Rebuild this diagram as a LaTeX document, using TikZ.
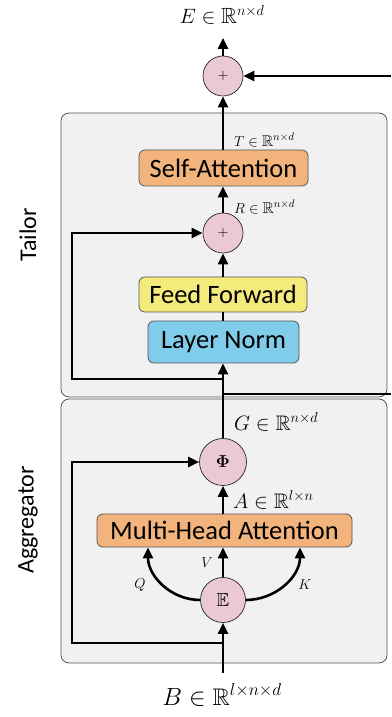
\documentclass[tikz,border=0pt]{standalone}
\usepackage{amsmath,amssymb}
\usepackage{fontspec}
\newfontfamily\labelfont{Carlito}
\usetikzlibrary{arrows.meta,positioning}
\definecolor{panel}{HTML}{F1F1F1}
\definecolor{edge}{HTML}{555555}
\definecolor{attn}{HTML}{F2B47C}
\definecolor{ffn}{HTML}{F3EB7C}
\definecolor{norm}{HTML}{7FCDEA}
\definecolor{opfill}{HTML}{EAC8D5}

\begin{document}
\begin{tikzpicture}[x=1pt,y=1pt,
    block/.style={draw=edge, rounded corners=8pt, fill=panel, line width=0.8pt},
    box/.style={draw=edge, rounded corners=6pt, line width=0.8pt, inner sep=0pt, font=\labelfont\fontsize{26.5}{28}\selectfont},
    op/.style={draw=black!85, circle, fill=opfill, line width=0.7pt, inner sep=0pt},
    side/.style={rotate=90, font=\labelfont\fontsize{24}{26}\selectfont},
    dim/.style={anchor=west, inner sep=0pt},
    arr/.style={-{Triangle[length=11pt,width=10pt]}, line width=2.6pt},
    wire/.style={line width=2.6pt}]
    \useasboundingbox (0,0) rectangle (391,717);
    % the two stages
    \node[block, minimum width=326pt, minimum height=284pt] (tailor) at (224,462) {};
    \node[block, minimum width=326pt, minimum height=264pt] (agg) at (224,186) {};
    \node[side] (tailorlbl) at (28,482) {Tailor};
    \node[side] (agglbl) at (28,197) {Aggregator};
    % aggregator
    \node[op, minimum size=45pt, font=\fontsize{19}{20}\selectfont] (emb) at (223,117) {$\mathbb{E}$};
    \node[box, fill=attn, minimum width=255pt, minimum height=33pt] (mha) at (224.5,186.5) {Multi-Head Attention};
    \node[op, minimum size=47pt, font=\fontsize{18}{20}\selectfont] (phi) at (223,255) {$\boldsymbol{\Phi}$};
    % tailor
    \node[box, fill=norm, minimum width=151pt, minimum height=42pt] (ln) at (223.5,375) {Layer Norm};
    \node[box, fill=ffn, minimum width=168pt, minimum height=35pt] (ff) at (223,422.5) {Feed Forward};
    \node[op, minimum size=40pt, font=\fontsize{14}{15}\selectfont] (add1) at (223,484) {$+$};
    \node[box, fill=attn, minimum width=169pt, minimum height=36pt] (sa) at (223.5,549) {Self-Attention};
    \node[op, minimum size=40pt, font=\fontsize{14}{15}\selectfont] (add2) at (223,641) {$+$};
    % shapes of the tensors
    \node[font=\fontsize{24}{26}\selectfont] (blbl) at (222,22) {$B \in \mathbb{R}^{l\times n\times d}$};
    \node[font=\fontsize{22}{24}\selectfont] (elbl) at (222,702) {$E \in \mathbb{R}^{n\times d}$};
    \node[dim, font=\fontsize{21}{23}\selectfont] (albl) at (233,217) {$A \in \mathbb{R}^{l\times n}$};
    \node[dim, font=\fontsize{21}{23}\selectfont] (glbl) at (234,295) {$G \in \mathbb{R}^{n\times d}$};
    \node[dim, font=\fontsize{15.5}{17}\selectfont] (rlbl) at (234,510) {$R \in \mathbb{R}^{n\times d}$};
    \node[dim, font=\fontsize{15.5}{17}\selectfont] (tlbl) at (234,577) {$T \in \mathbb{R}^{n\times d}$};
    \node[font=\fontsize{14}{16}\selectfont] (qlbl) at (140,132) {$Q$};
    \node[font=\fontsize{14}{16}\selectfont] (vlbl) at (207,154) {$V$};
    \node[font=\fontsize{14}{16}\selectfont] (klbl) at (305,132) {$K$};
    % free ends and corners of the skip paths
    \coordinate (bin) at (223,44);
    \coordinate (askip) at (72,74);
    \coordinate (tskip) at (72,338);
    \coordinate (rout) at (391,323);
    \coordinate (rin) at (391,641);
    % connectors
    \draw[arr] (bin) -- (emb);
    \draw[arr] (emb) -- (mha.south -| emb);
    \draw[arr] (emb.west) to[out=180,in=-90] ([xshift=-75pt]emb.north |- mha.south);
    \draw[arr] (emb.east) to[out=0,in=-90] ([xshift=77pt]emb.north |- mha.south);
    \draw[arr] (emb.south |- askip) -- (askip) |- (phi);
    \draw[arr] (mha.north -| phi) -- (phi);
    \draw[arr] (phi) -- (ln.south -| phi);
    \draw[wire] (phi.north |- rout) -- (rout);
    \draw[arr] (phi.north |- tskip) -- (tskip) |- (add1);
    \draw[wire] (ln.north -| add1) -- (ff.south -| add1);
    \draw[arr] (ff.north -| add1) -- (add1);
    \draw[arr] (add1) -- (sa.south -| add1);
    \draw[arr] (sa.north -| add2) -- (add2);
    \draw[arr] (rin) -- (add2);
    \draw[arr] (add2) -- ++(0,38);
  \end{tikzpicture}
\end{document}
